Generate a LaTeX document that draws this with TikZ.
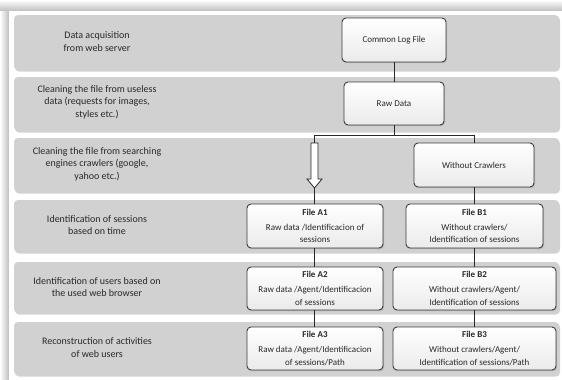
\documentclass[tikz,border=0pt]{standalone}
\usepackage{fontspec}
\setmainfont{Carlito}
\usetikzlibrary{shadows,calc}
\definecolor{rowgray}{RGB}{209,209,209}
\definecolor{boxline}{RGB}{60,60,60}
\definecolor{txt}{RGB}{40,40,40}
\definecolor{shad}{RGB}{190,190,190}
\begin{document}
\begin{tikzpicture}[x=1pt,y=-1pt,
  rowbox/.style={draw=none, fill=rowgray, rounded corners=4pt, inner sep=0pt,
    drop shadow={shadow xshift=1pt, shadow yshift=-1.5pt, opacity=0.35, fill=gray}},
  lefttext/.style={align=center, font=\fontsize{10}{12.5}\selectfont, text=txt, inner sep=0pt},
  stepbox/.style={draw=boxline, line width=0.9pt, rounded corners=4pt, top color=white, bottom color=black!8,
    align=center, font=\fontsize{9}{12.5}\selectfont, text=txt, inner sep=0pt,
    drop shadow={shadow xshift=1pt, shadow yshift=-1.2pt, opacity=0.35, fill=gray}},
  conn/.style={draw=txt, line width=0.9pt}
]
\useasboundingbox (0,0) rectangle (562,380);
% frame shadow
\shade[top color=white, bottom color=shad] (0,0) rectangle (562,11);
\shade[left color=white, right color=shad] (0,11) rectangle (9,380);
\fill[white] (9,11) rectangle (562,380);

% rows
\node[rowbox, minimum width=545, minimum height=55] (r1) at (286.5,42.5) {};
\node[rowbox, minimum width=545, minimum height=54] (r2) at (286.5,104) {};
\node[rowbox, minimum width=545, minimum height=54] (r3) at (286.5,165) {};
\node[rowbox, minimum width=545, minimum height=52] (r4) at (286.5,226) {};
\node[rowbox, minimum width=545, minimum height=51] (r5) at (286.5,287.5) {};
\node[rowbox, minimum width=545, minimum height=53] (r6) at (286.5,348.5) {};

% left texts
\node[lefttext] (t1) at (97,41.5) {Data acquisition\\from web server};
\node[lefttext] (t2) at (97,102) {Cleaning the file from useless\\data (requests for images,\\styles etc.)};
\node[lefttext] (t3) at (97,164) {Cleaning the file from searching\\engines crawlers (google,\\yahoo etc.)};
\node[lefttext] (t4) at (97,225) {Identification of sessions\\based on time};
\node[lefttext] (t5) at (97,287) {Identification of users based on\\the used web browser};
\node[lefttext] (t6) at (97,347.5) {Reconstruction of activities\\of web users};

% boxes
\node[stepbox, minimum width=104, minimum height=44] (clf) at (394,40) {Common Log File};
\node[stepbox, minimum width=100, minimum height=43] (raw) at (394,103.5) {Raw Data};
\node[stepbox, minimum width=120, minimum height=44] (wc) at (474,165) {Without Crawlers};
\node[stepbox, minimum width=136, minimum height=44] (a1) at (315,226) {\textbf{File A1}\\[2.5pt]Raw data /Identificacion of\\sessions};
\node[stepbox, minimum width=137, minimum height=44] (b1) at (474.5,226) {\textbf{File B1}\\[2.5pt]Without crawlers/\\Identification of sessions};
\node[stepbox, minimum width=136, minimum height=43] (a2) at (315,288.5) {\textbf{File A2}\\[2.5pt]Raw data /Agent/Identificacion\\of sessions};
\node[stepbox, minimum width=163, minimum height=43] (b2) at (474.5,288.5) {\textbf{File B2}\\[2.5pt]Without crawlers/Agent/\\Identification of sessions};
\node[stepbox, minimum width=136, minimum height=43] (a3) at (315,348.5) {\textbf{File A3}\\[2.5pt]Raw data /Agent/Identificacion\\of sessions/Path};
\node[stepbox, minimum width=163, minimum height=43] (b3) at (474.5,348.5) {\textbf{File B3}\\[2.5pt]Without crawlers/Agent/\\Identification of sessions/Path};

% connectors
\coordinate (jA) at (314.5,135);
\coordinate (jB) at (474,135);
\coordinate (arrTop) at (314.5,143);
\coordinate (arrTip) at (314.5,188);
\draw[conn] (clf.south) -- (raw.north);
\draw[conn] (raw.south) -- (raw.south |- jA);
\draw[conn] (jA) -- (jB);
\draw[conn] (jB) -- (wc.north);
\draw[conn] (jA) -- (arrTop);
\draw[draw=txt, line width=0.8pt, fill=white]
  ($(arrTop)+(-3.5,0)$) -- ($(arrTop)+(3.5,0)$) -- ($(arrTip)+(3.5,-9)$) -- ($(arrTip)+(7.5,-9)$)
  -- (arrTip) -- ($(arrTip)+(-7.5,-9)$) -- ($(arrTip)+(-3.5,-9)$) -- cycle;
\draw[conn] (arrTip) -- (a1.north -| arrTip);
\draw[conn] (wc.south) -- (wc.south |- b1.north);
\draw[conn] (a1.south -| arrTip) -- (a2.north -| arrTip);
\draw[conn] (a2.south -| arrTip) -- (a3.north -| arrTip);
\draw[conn] (b1.south -| jB) -- (b2.north -| jB);
\draw[conn] (b2.south -| jB) -- (b3.north -| jB);
\end{tikzpicture}
\end{document}
